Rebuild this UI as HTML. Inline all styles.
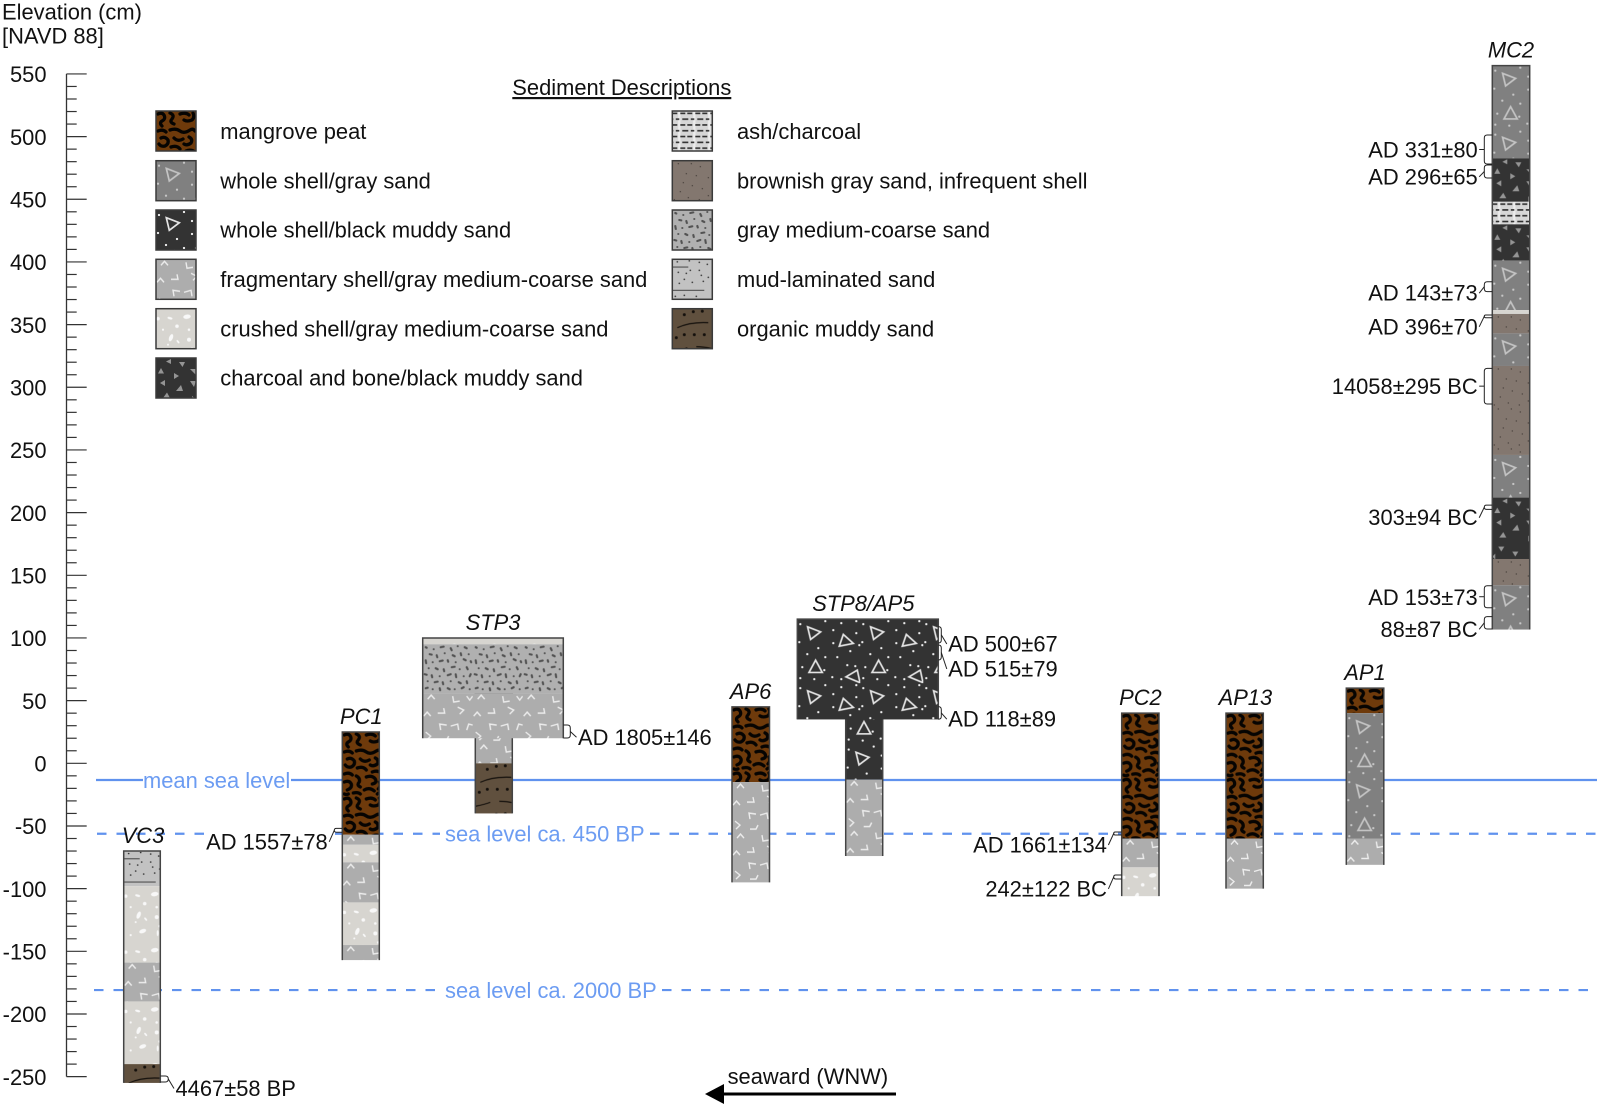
<!DOCTYPE html>
<html lang="en">
<head>
<meta charset="utf-8">
<title>Sediment core elevation chart</title>
<style>
html,body{margin:0;padding:0;background:#fff;}
svg{display:block;}
text{font-family:"Liberation Sans",Arial,sans-serif;font-size:21.9px;fill:#111;}
.blue{fill:#6c9cf2;}
.it{font-style:italic;}
</style>
</head>
<body>
<svg id="chart" xmlns="http://www.w3.org/2000/svg" width="1600" height="1107" viewBox="0 0 1600 1107">
<defs>
  <g id="shell-triangles" fill="none" stroke-width="1.7" stroke-linejoin="miter">
    <path d="M10.3 7.7L23.3 12.7L13.3 20.3Z"/>
    <path d="M42 27L56 24.3L46 15.3Z"/>
    <path d="M11.7 53.3L25 53.3L18.3 41Z"/>
    <path d="M48.7 57.7L60 51L62.7 63.5Z"/>
  </g>
  <path id="shell-dots" fill="none" stroke-width="2.3" stroke-linecap="round" d="M3 5h.01M28 2h.01M36 11h.01M2 23h.01M21 29h.01M36 24h.01M10 35h.01M28 38h.01M44 4h.01M59 2h.01M59 14h.01M53 32h.01M62 26h.01M5 48h.01M35 58h.01M17 60h.01M27 51h.01M3 59h.01M50 46h.01M58 47h.01M44 60h.01M40 38h.01"/>
  <pattern id="pat-shellgray" patternUnits="userSpaceOnUse" width="63" height="64">
    <rect width="63" height="64" fill="#808080"/>
    <use href="#shell-triangles" stroke="#c4c4c4"/>
    <use href="#shell-dots" stroke="#c8c8c8"/>
  </pattern>
  <pattern id="pat-shellblack" patternUnits="userSpaceOnUse" width="63" height="64">
    <rect width="63" height="64" fill="#333333"/>
    <use href="#shell-triangles" stroke="#e4e4e4"/>
    <use href="#shell-dots" stroke="#f0f0f0"/>
  </pattern>
  <pattern id="pat-peat" patternUnits="userSpaceOnUse" width="40" height="64">
    <rect width="40" height="64" fill="#6e3a0b"/>
    <path fill="none" stroke="#060402" stroke-width="3.3" stroke-linecap="round" stroke-linejoin="round" d="M2 3Q6 1 8 4Q10 8 6 10Q3 12 6 15M14 2Q19 4 16 8Q13 11 18 13M24 3Q30 1 33 4M37 2Q39 6 36 9Q31 11 28 9M2 20Q7 18 10 21M14 19Q20 17 24 20Q28 23 34 19Q37 17 39 20M5 27Q9 25 12 29Q13 33 9 35Q5 36 3 33M18 27Q22 31 27 28M33 26Q37 28 35 32Q31 35 28 33M15 36Q21 34 24 38M2 42Q7 40 10 43M30 40Q35 38 39 41M14 44Q18 46 17 50Q14 53 18 55M24 45Q30 43 33 47Q35 51 30 52M2 50Q7 48 9 52Q10 56 5 58M37 50Q39 54 36 57M22 58Q27 55 32 59M11 61Q16 60 18 62M2 62Q4 63 6 62M35 62Q37 60 39 62"/>
  </pattern>
  <pattern id="pat-frag" patternUnits="userSpaceOnUse" width="50" height="50">
    <rect width="50" height="50" fill="#adadad"/>
    <path fill="none" stroke="#ececec" stroke-width="1.4" d="M5 6L8.5 2L12 6M30 3L31 9L37 8M44 3L47 7L50 3M1 23L4.5 19L8 23M15 20L22 20L21 15M35 14L41 17L37 21M18 37L17 31L24 32M28 33L35 31L36 37M44 37L46 31L50 32M3 39L8 43L4 47M18 47L24 47L26 43"/>
  </pattern>
  <pattern id="pat-crushed" patternUnits="userSpaceOnUse" width="40" height="56">
    <rect width="40" height="56" fill="#d7d5d0"/>
    <g fill="#f8f8f8">
      <ellipse cx="31" cy="8" rx="3.8" ry="2.2" transform="rotate(-8 31 8)"/>
      <ellipse cx="14" cy="9.500" rx="2.600" ry="1.100" transform="rotate(15 14 9.500)"/>
      <circle cx="2" cy="10" r="1.800"/>
      <circle cx="21" cy="17.500" r="1.800"/>
      <circle cx="7" cy="21" r="1.100"/>
      <circle cx="33" cy="21" r="1.300"/>
      <ellipse cx="15" cy="29" rx="1.900" ry="3.800" transform="rotate(22 15 29)"/>
      <ellipse cx="22" cy="33" rx="2" ry=".9" transform="rotate(50 22 33)"/>
      <circle cx="33" cy="31" r="2"/>
      <circle cx="12" cy="36" r="1"/>
      <ellipse cx="19" cy="45" rx="3.600" ry="2" transform="rotate(-20 19 45)"/>
      <ellipse cx="34" cy="47" rx="1" ry="3"/>
      <circle cx="7" cy="49" r="1.100"/>
      <circle cx="36" cy="40" r="1.300"/>
    </g>
  </pattern>
  <pattern id="pat-charcoal" patternUnits="userSpaceOnUse" width="40" height="62">
    <rect width="40" height="62" fill="#333333"/>
    <path fill="#959595" d="M10 3.500L15 1V6ZM23 4H29L26.500 9ZM2 15.500L5 10L8 15.500ZM18 15L23 18L18 21ZM34 11H40V17ZM4 25L9 22V28ZM20 33L25 27L27 33ZM34 23H40L38 29ZM7 40L11 34.500L14 40ZM6 49H12L9 54ZM20 54H26L23 59ZM36 38L40 41L36 44ZM0 59L3 56L3 62Z"/>
  </pattern>
  <pattern id="pat-ash" patternUnits="userSpaceOnUse" width="15" height="11.6">
    <rect width="15" height="11.6" fill="#d6d6d6"/>
    <rect x="5.8" width="2.4" height="11.6" fill="#ececec"/>
    <path stroke="#2c2c2c" stroke-width="1.6" d="M0 2.400H5M8 2.400H13M3.500 8.200H7M10 8.200H15M0 8.200H1"/>
  </pattern>
  <pattern id="pat-brownish" patternUnits="userSpaceOnUse" width="40" height="40">
    <rect width="40" height="40" fill="#83776f"/>
    <path fill="none" stroke="#3d3632" stroke-width="1.3" stroke-linecap="round" d="M6 3h.01M19 3h.01M28 6h.01M14 13h.01M24 15h.01M36 17h.01M11 22h.01M20 25h.01M8 31h.01M30 28h.01M36 35h.01M16 37h.01M27 39h.01M2 39h.01"/>
  </pattern>
  <pattern id="pat-coarse" patternUnits="userSpaceOnUse" width="50" height="50">
    <rect width="50" height="50" fill="#b0b0b0"/>
    <path fill="none" stroke="#525252" stroke-width="2.1" stroke-linecap="round" d="M3 3l1 .5M11 5h.01M18 3l3 -.6M28 4l1 2M35 2h.01M42 3l2 1M7 10l2 .4M14 11l.6 2M22 9h.01M30 11l2 1M38 9l.5 2M46 10h.01M3 16l.5 3M10 18h.01M17 17l3 -.7M25 16l.5 1.500M33 18h.01M41 15l2 1M48 17l.5 1M6 24h.01M13 24l2 1M21 25l.5 2M29 23l3 -.5M37 25h.01M44 23l1 2M2 30l2 .5M9 31l.5 2M17 32h.01M25 31l3 -1M33 30l.5 3M41 32h.01M48 30l-1 2M5 37h.01M12 38l3 -.6M20 38l.5 2M28 37h.01M36 38l2 1M44 37l.5 2M3 44l2 -.5M10 45h.01M17 44l.5 2M25 44l2 1M32 45h.01M39 44l2 -1M47 45h.01"/>
  </pattern>
  <pattern id="pat-mud" patternUnits="userSpaceOnUse" width="40" height="40">
    <rect width="40" height="40" fill="#c2c2c2"/>
    <path fill="none" stroke="#222" stroke-width="1.6" stroke-linecap="round" d="M5 2.500h.01M17 1.500h.01M27 3h.01M35 5h.01M18 11h.01M6 13h.01M29 16h.01M14 14h.01M27 11h.01M7 24h.01M12 20h.01M20 23h.01M31 22h.01M36 18h.01M12 36h.01M24 37h.01M3 37h.01"/>
    <path fill="none" stroke="#444" stroke-width="1" d="M0 7.800H16M0 31H32"/>
  </pattern>
  <pattern id="pat-organic" patternUnits="userSpaceOnUse" width="40" height="48">
    <rect width="40" height="48" fill="#60503e"/>
    <path fill="none" stroke="#14100c" stroke-width="3" stroke-linecap="round" d="M12 6h.01M21 3h.01M30 2.500h.01M4 29h.01M12 26h.01M22 26h.01M32 26h.01"/>
    <path fill="none" stroke="#14100c" stroke-width="1.2" d="M5 19Q18 13 36 14M0 43Q10 41 15 39M24 38Q32 38 40 40"/>
  </pattern>
</defs>

<g>
  <text x="2" y="19.500">Elevation (cm)</text>
  <text x="2" y="43.500">[NAVD 88]</text>
</g>

<g id="axis"></g>
<g id="sea-levels"></g>

<g>
  <text x="512.300" y="95" text-decoration="underline">Sediment Descriptions</text>
  <g stroke="#3a3a3a" stroke-width="1.5">
    <g transform="translate(156 111)"><rect width="40" height="40" fill="url(#pat-peat)"/></g>
    <g transform="translate(156 160.700)"><rect width="40" height="40" fill="url(#pat-shellgray)"/></g>
    <g transform="translate(156 210)"><rect width="40" height="40" fill="url(#pat-shellblack)"/></g>
    <g transform="translate(156 259.300)"><rect width="40" height="40" fill="url(#pat-frag)"/></g>
    <g transform="translate(156 308.700)"><rect width="40" height="40" fill="url(#pat-crushed)"/></g>
    <g transform="translate(156 358)"><rect width="40" height="40" fill="url(#pat-charcoal)"/></g>
    <g transform="translate(672.300 111)"><rect width="40" height="40" fill="url(#pat-ash)"/></g>
    <g transform="translate(672.300 160.700)"><rect width="40" height="40" fill="url(#pat-brownish)"/></g>
    <g transform="translate(672.300 210)"><rect width="40" height="40" fill="url(#pat-coarse)"/></g>
    <g transform="translate(672.300 259.300)"><rect width="40" height="40" fill="url(#pat-mud)"/></g>
    <g transform="translate(672.300 308.700)"><rect width="40" height="40" fill="url(#pat-organic)"/></g>
  </g>
  <text x="220.300" y="139">mangrove peat</text>
  <text x="220.300" y="188.300">whole shell/gray sand</text>
  <text x="220.300" y="237.600">whole shell/black muddy sand</text>
  <text x="220.300" y="287">fragmentary shell/gray medium-coarse sand</text>
  <text x="220.300" y="336.300">crushed shell/gray medium-coarse sand</text>
  <text x="220.300" y="385.600">charcoal and bone/black muddy sand</text>
  <text x="737" y="139">ash/charcoal</text>
  <text x="737" y="188.300">brownish gray sand, infrequent shell</text>
  <text x="737" y="237.600">gray medium-coarse sand</text>
  <text x="737" y="287">mud-laminated sand</text>
  <text x="737" y="336.300">organic muddy sand</text>
</g>

<g id="cores"></g>
<g id="dates"></g>

<g>
  <text x="727.600" y="1084">seaward (WNW)</text>
  <line x1="896" y1="1094" x2="720" y2="1094" stroke="#000" stroke-width="3"/>
  <polygon points="705,1094 724,1084 724,1104" fill="#000"/>
</g>

<script>
// ---- axis data ----
const axisMin = -250;
const axisMax = 550;
const minorStep = 10;
const tickValues = [550,500,450,400,350,300,250,200,150,100,50,0,-50,-100,-150,-200,-250];

// ---- sea levels (cm) ----
const seaLevelValues = [-13.3,-56.2,-180.9];
const seaLevelLabels = ["mean sea level","sea level ca. 450 BP","sea level ca. 2000 BP"];

// ---- core stratigraphy: layer boundaries (cm elevation) and sediment per layer ----
const vc3Bounds = [-70,-98,-159,-190,-240,-255];
const vc3Sediments = ["mud","crushed","frag","crushed","organic"];
const pc1Bounds = [25,-57,-65,-79,-111,-145,-157];
const pc1Sediments = ["peat","frag","crushed","frag","crushed","frag"];
const stp3LowerBounds = [56,0,-40];
const stp3LowerSediments = ["frag","organic"];
const stp3UpperBounds = [100,95,56,20];
const stp3UpperSediments = ["crushed","coarse","frag"];
const ap6Bounds = [45,-15,-95];
const ap6Sediments = ["peat","frag"];
const stp8LowerBounds = [66,-13,-74];
const stp8LowerSediments = ["shellblack","frag"];
const stp8UpperBounds = [115,35];
const stp8UpperSediments = ["shellblack"];
const pc2Bounds = [40,-60,-83,-106];
const pc2Sediments = ["peat","frag","crushed"];
const ap13Bounds = [40,-60,-100];
const ap13Sediments = ["peat","frag"];
const ap1Bounds = [60,40,-60,-81];
const ap1Sediments = ["peat","shellgray","frag"];
const mc2Bounds = [556.6,482.7,448,430,401,361.6,358.5,343,317,246,212,163,142,106.7];
const mc2Sediments = ["shellgray","charcoal","ash","charcoal","shellgray","crushed","brownish","shellgray","brownish","shellgray","charcoal","brownish","shellgray"];

// ---- dated horizons ----
const dateLabels = ["4467±58 BP","AD 1557±78","AD 1805±146","AD 500±67","AD 515±79","AD 118±89","AD 1661±134","242±122 BC","AD 331±80","AD 296±65","AD 143±73","AD 396±70","14058±295 BC","303±94 BC","AD 153±73","88±87 BC"];
const dateTops = [-249.5,-51.9,30.6,109,94.4,45.2,-54.8,-89.1,501.3,477.3,384.2,357.7,315.1,206,141.7,117];
const dateBottoms = [-254.3,-55,20.2,96,82.4,35.1,-57.2,-92.3,478.1,467,376.3,355.5,286.7,202.6,124.1,107.1];

// ---- layout (pixels) kept apart from the data ----
const plotZeroY = 763.3;
const pxPerCm = 1.2534;
const axisX = 66.5;
const coreLayout = [
  {name:"VC3",left:123.7,width:36.6,bounds:vc3Bounds,sediments:vc3Sediments,labelX:143},
  {name:"PC1",left:342.3,width:37,bounds:pc1Bounds,sediments:pc1Sediments,labelX:361.3},
  {name:"STP3-lower",left:475.3,width:37,bounds:stp3LowerBounds,sediments:stp3LowerSediments},
  {name:"STP3",left:422.7,width:140.6,bounds:stp3UpperBounds,sediments:stp3UpperSediments,labelX:493},
  {name:"AP6",left:732,width:37.5,bounds:ap6Bounds,sediments:ap6Sediments,labelX:750.6},
  {name:"STP8-lower",left:845.7,width:37,bounds:stp8LowerBounds,sediments:stp8LowerSediments},
  {name:"STP8/AP5",left:797.3,width:141,bounds:stp8UpperBounds,sediments:stp8UpperSediments,labelX:863.3},
  {name:"PC2",left:1121.7,width:37.3,bounds:pc2Bounds,sediments:pc2Sediments,labelX:1140.4},
  {name:"AP13",left:1226,width:37.3,bounds:ap13Bounds,sediments:ap13Sediments,labelX:1245.4},
  {name:"AP1",left:1346.3,width:37.5,bounds:ap1Bounds,sediments:ap1Sediments,labelX:1365},
  {name:"MC2",left:1492.3,width:37.4,bounds:mc2Bounds,sediments:mc2Sediments,labelX:1511}
];
const seaLineSpans = [
  [[96,143],[291,1597]],
  [[97,205],[335,440],[650,1597]],
  [[94,440],[662,1597]]
];
const seaLabelX = [143,445,445];
const dateLayout = [
  {edge:160.3,side:1,tip:8,gap:15.2,dy:17},
  {edge:342.3,side:-1,tip:8,gap:14.6,dy:19},
  {edge:563.3,side:1,tip:7,gap:14.7,dy:13.3},
  {edge:938.3,side:1,tip:3,gap:10,dy:16.7},
  {edge:938.3,side:1,tip:3,gap:10,dy:24},
  {edge:938.3,side:1,tip:3,gap:10,dy:13.7},
  {edge:1121.7,side:-1,tip:8,gap:14.8,dy:19},
  {edge:1121.7,side:-1,tip:8,gap:14.8,dy:19.5},
  {edge:1492.3,side:-1,tip:8,gap:14.6,dy:8.2},
  {edge:1492.3,side:-1,tip:8,gap:14.6,dy:12.8},
  {edge:1492.3,side:-1,tip:8,gap:14.6,dy:14},
  {edge:1492.3,side:-1,tip:8,gap:14.6,dy:18},
  {edge:1492.3,side:-1,tip:8,gap:14.6,dy:7.7},
  {edge:1492.3,side:-1,tip:8,gap:14.6,dy:18},
  {edge:1492.3,side:-1,tip:8,gap:14.6,dy:8.3},
  {edge:1492.3,side:-1,tip:8,gap:14.6,dy:14}
];

const NS = "http://www.w3.org/2000/svg";
function yScale(v){ return plotZeroY - v * pxPerCm; }
function make(tag, attrs, parent){
  const el = document.createElementNS(NS, tag);
  for (const k in attrs) el.setAttribute(k, attrs[k]);
  parent.appendChild(el);
  return el;
}

// y axis
const axisG = document.getElementById("axis");
const axisLine = make("line",{x1:axisX,x2:axisX,y1:yScale(axisMax),y2:yScale(axisMin),stroke:"#333","stroke-width":1.3},axisG);


for (let v = axisMin; v <= axisMax; v += minorStep){
  const major = v % 50 === 0;
  const tick = make("line",{x1:axisX,x2:major?86.7:76.7,y1:yScale(v),y2:yScale(v),stroke:"#333","stroke-width":1.2},axisG);
  
  
}
tickValues.forEach(function(v){
  const t = make("text",{x:46.5,y:yScale(v)+8.2,"text-anchor":"end"},axisG);
  t.textContent = String(v);
  
  
});

// sea-level lines
const seaG = document.getElementById("sea-levels");
seaLevelValues.forEach(function(v,i){
  const yy = yScale(v);
  seaLineSpans[i].forEach(function(span){
    const seg = make("line",{x1:span[0],x2:span[1],y1:yy,y2:yy,stroke:"#6092ee","stroke-width":2.2},seaG);
    if (i>0) seg.setAttribute("stroke-dasharray","9.500 10");
    
    
  });
  const lab = make("text",{x:seaLabelX[i],y:yy+8,class:"blue"},seaG);
  lab.textContent = seaLevelLabels[i];
  
  
});

// cores
const coresG = document.getElementById("cores");
coreLayout.forEach(function(core){
  const g = make("g",{},coresG);
  
  
  core.sediments.forEach(function(sed,i){
    const top = yScale(core.bounds[i]);
    const bottom = yScale(core.bounds[i+1]);
    const r = make("rect",{x:0,y:0,width:core.width,height:bottom-top,fill:"url(#pat-"+sed+")",transform:"translate("+core.left+" "+top+")"},g);
    
    
  });
  const yt = yScale(core.bounds[0]);
  const yb = yScale(core.bounds[core.bounds.length-1]);
  const outline = make("path",{d:"M"+core.left+" "+yb+"V"+yt+"H"+(core.left+core.width)+"V"+yb,fill:"none",stroke:"#444","stroke-width":1.5},g);
  
  
  if (core.labelX){
    const lab = make("text",{x:core.labelX,y:yt-8,"text-anchor":"middle",class:"it"},g);
    lab.textContent = core.name;
    
    
  }
});

// dated horizons
const datesG = document.getElementById("dates");
dateLabels.forEach(function(label,i){
  const L = dateLayout[i];
  const y0 = yScale(dateTops[i]);
  const y1 = yScale(dateBottoms[i]);
  const mid = (y0+y1)/2;
  const tipX = L.edge + L.side*L.tip;
  const r = Math.min(3,(y1-y0)/2);
  const bx = L.side*r;
  const bracketD = "M"+L.edge+" "+y0+"H"+(tipX-bx)+"Q"+tipX+" "+y0+" "+tipX+" "+(y0+r)+"V"+(y1-r)+"Q"+tipX+" "+y1+" "+(tipX-bx)+" "+y1+"H"+L.edge;
  const br = make("path",{d:bracketD,fill:"none",stroke:"#222","stroke-width":1},datesG);
  
  
  const textX = L.edge + L.side*L.gap;
  const baseline = mid + L.dy;
  const lead = make("line",{x1:tipX,y1:mid,x2:textX-L.side*1.5,y2:L.dy<9?mid:baseline-7.5,stroke:"#222","stroke-width":1},datesG);
  
  
  const t = make("text",{x:textX,y:baseline,"text-anchor":L.side>0?"start":"end"},datesG);
  t.textContent = label;
  
  
});
</script>
</svg>
</body>
</html>
